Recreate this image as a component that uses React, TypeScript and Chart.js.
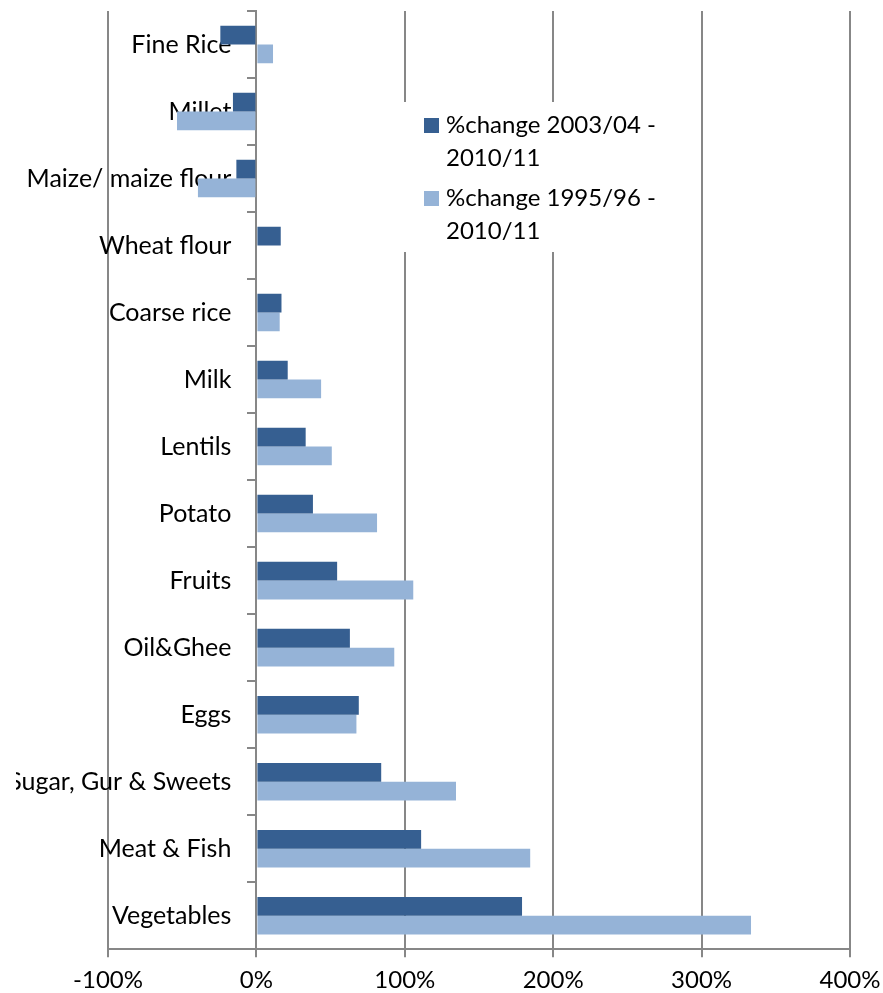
import React, { useEffect, useRef } from "react";
import { Chart, registerables } from "chart.js";

Chart.register(...registerables);

const categories = [
  "Fine Rice",
  "Millet",
  "Maize/ maize flour",
  "Wheat flour",
  "Coarse rice",
  "Milk",
  "Lentils",
  "Potato",
  "Fruits",
  "Oil&Ghee",
  "Eggs",
  "Sugar, Gur & Sweets",
  "Meat & Fish",
  "Vegetables",
];

const change2003 = [-24.3, -15.8, -13.5, 16.4, 16.9, 21.1, 33.2, 38.1, 54.4, 63, 69, 84.1, 111, 179];
const change1995 = [11.2, -53.5, -39.4, 0, 15.7, 43.6, 50.8, 81.3, 105.7, 92.9, 67.4, 134.5, 184.5, 333.3];

const seriesLabels = ["%change 2003/04 - 2010/11", "%change 1995/96 - 2010/11"];
const legendLines = [
  ["%change 2003/04 -", "2010/11"],
  ["%change 1995/96 -", "2010/11"],
];

const xMin = -100;
const xMax = 400;
const xStep = 100;

const DARK = "#365F91";
const LIGHT = "#95B3D7";
const GRID = "#878787";
const FONT = "Lato, 'Open Sans', sans-serif";
const LABEL_GAP = 25;

const legendPlugin = {
  id: "insideLegend",
  beforeDraw(chart: any) {
    // move the category labels away from the axis line (Chart.js ignores padding for data-positioned axes)
    const y = chart.scales.y;
    if (y) {
      const items = y.getLabelItems();
      if (items && !(items as any)._shifted) {
        items.forEach((it: any) => {
          it.options.translation[0] -= LABEL_GAP;
        });
        (items as any)._shifted = true;
      }
    }
  },
  afterDraw(chart: any) {
    const ctx = chart.ctx;
    ctx.save();
    ctx.fillStyle = "#ffffff";
    ctx.fillRect(386, 102, 290, 150);
    const colors = [DARK, LIGHT];
    const itemTops = [118, 191];
    ctx.font = `24px ${FONT}`;
    ctx.textBaseline = "middle";
    ctx.textAlign = "left";
    for (let i = 0; i < legendLines.length; i++) {
      ctx.fillStyle = colors[i];
      ctx.fillRect(408, itemTops[i], 15, 15);
      ctx.fillStyle = "#000000";
      legendLines[i].forEach((line, j) => {
        ctx.fillText(line, 430, itemTops[i] + 7.5 + j * 33);
      });
    }
    ctx.restore();
  },
};

const zeroPadding = (scale: any) => {
  scale.paddingTop = 0;
  scale.paddingBottom = 0;
  scale.paddingLeft = 0;
  scale.paddingRight = 0;
};

export default function App() {
  const canvasRef = useRef<HTMLCanvasElement | null>(null);

  useEffect(() => {
    if (!canvasRef.current) return;
    const chart = new Chart(canvasRef.current, {
      type: "bar",
      data: {
        labels: categories,
        datasets: [
          {
            label: seriesLabels[0],
            data: change2003,
            backgroundColor: DARK,
            categoryPercentage: 0.56,
            barPercentage: 1,
          },
          {
            label: seriesLabels[1],
            data: change1995,
            backgroundColor: LIGHT,
            categoryPercentage: 0.56,
            barPercentage: 1,
          },
        ],
      },
      options: {
        indexAxis: "y",
        animation: false,
        responsive: false,
        maintainAspectRatio: false,
        events: [],
        layout: { padding: { left: 92, right: 33, top: 11, bottom: -11 } },
        plugins: {
          legend: { display: false },
          tooltip: { enabled: false },
          title: { display: false },
        },
        scales: {
          x: {
            type: "linear",
            position: "bottom",
            min: xMin,
            max: xMax,
            afterFit: zeroPadding,
            ticks: {
              stepSize: xStep,
              color: "#000",
              font: { family: FONT, size: 24 },
              padding: 9,
              callback: (v: any) => `${v}%`,
            },
            grid: {
              color: GRID,
              lineWidth: 2,
              tickLength: 8,
              drawTicks: true,
            },
            border: { display: true, color: GRID, width: 2 },
          },
          y: {
            type: "category",
            position: { x: 0 } as any,
            offset: true,
            z: 1,
            afterFit: zeroPadding,
            ticks: {
              color: "#000",
              font: { family: FONT, size: 25 },
              padding: 0,
              autoSkip: false,
            },
            grid: {
              offset: true,
              drawOnChartArea: false,
              drawTicks: true,
              tickLength: 8,
              color: GRID,
              lineWidth: 2,
            },
            border: { display: true, color: GRID, width: 2 },
          },
        },
      },
      plugins: [legendPlugin],
    });
    return () => chart.destroy();
  }, []);

  return (
    <div style={{ position: "absolute", left: 16, top: 0, width: 867, height: 993 }}>
      <canvas ref={canvasRef} width={867} height={993} style={{ display: "block" }} />
    </div>
  );
}
